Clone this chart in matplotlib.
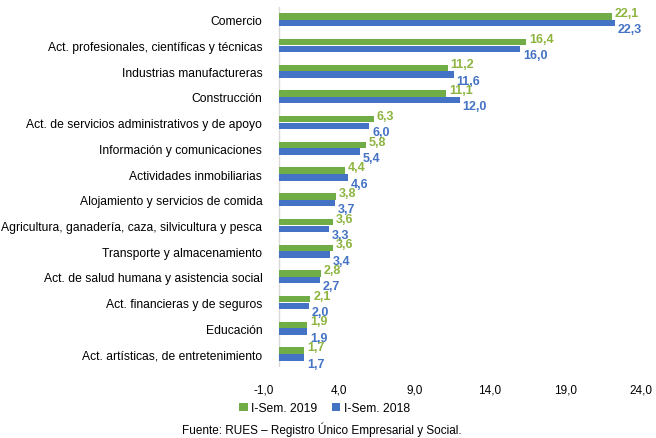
import numpy as np
import matplotlib
matplotlib.use("Agg")
import matplotlib.pyplot as plt

plt.rcParams['font.family'] = ['Liberation Sans', 'DejaVu Sans']

sectores = [
    "Comercio",
    "Act. profesionales, científicas y técnicas",
    "Industrias manufactureras",
    "Construcción",
    "Act. de servicios administrativos y de apoyo",
    "Información y comunicaciones",
    "Actividades inmobiliarias",
    "Alojamiento y servicios de comida",
    "Agricultura, ganadería, caza, silvicultura y pesca",
    "Transporte y almacenamiento",
    "Act. de salud humana y asistencia social",
    "Act. financieras y de seguros",
    "Educación",
    "Act. artísticas, de entretenimiento",
]
sem2019 = [22.1, 16.4, 11.2, 11.1, 6.3, 5.8, 4.4, 3.8, 3.6, 3.6, 2.8, 2.1, 1.9, 1.7]
sem2018 = [22.3, 16.0, 11.6, 12.0, 6.0, 5.4, 4.6, 3.7, 3.3, 3.4, 2.7, 2.0, 1.9, 1.7]
xticks = [-1, 4, 9, 14, 19, 24]

verde = '#70AD47'
azul = '#4472C4'

def coma(v):
    return ('%.1f' % v).replace('.', ',')

fig = plt.figure(figsize=(6.56, 4.39), dpi=100)
ax = fig.add_axes([0.402, 0.162, 0.575, 0.820])

y = np.arange(len(sectores))
h = 0.25
ax.barh(y - 0.13, sem2019, height=h, color=verde, label='I-Sem. 2019')
ax.barh(y + 0.13, sem2018, height=h, color=azul, label='I-Sem. 2018')

# etiquetas: verde un poco arriba, azul un poco abajo (como en excel)
for i in range(len(sectores)):
    ax.annotate(coma(sem2019[i]), (sem2019[i], y[i] - 0.13), xytext=(2, 2.5),
                textcoords='offset points', va='center', ha='left',
                fontsize=9, fontweight='bold', color='#8DB43F')
    ax.annotate(coma(sem2018[i]), (sem2018[i], y[i] + 0.13), xytext=(2, -4.5),
                textcoords='offset points', va='center', ha='left',
                fontsize=9, fontweight='bold', color=azul)

ax.set_xlim(-1, 24)
ax.set_ylim(len(sectores) - 0.5, -0.5)
ax.set_xticks(xticks)
ax.set_xticklabels([coma(v) for v in xticks], fontsize=8.5)
ax.set_yticks(y)
ax.set_yticklabels(sectores, fontsize=8.7)
ax.tick_params(axis='both', length=0)
ax.tick_params(axis='y', pad=1)
ax.tick_params(axis='x', pad=12)

for s in ['top', 'right', 'bottom', 'left']:
    ax.spines[s].set_visible(False)
ax.axvline(0, color='#D9D9D9', lw=1, zorder=0)

fig.legend(loc='center', bbox_to_anchor=(0.495, 0.068), ncol=2, frameon=False,
           fontsize=8.7, handlelength=0.7, handleheight=0.7, handletextpad=0.3,
           columnspacing=1.2)
fig.text(0.49, 0.02, 'Fuente: RUES – Registro Único Empresarial y Social.',
         ha='center', va='center', fontsize=8.5)

fig.savefig('out.png', dpi=100)
